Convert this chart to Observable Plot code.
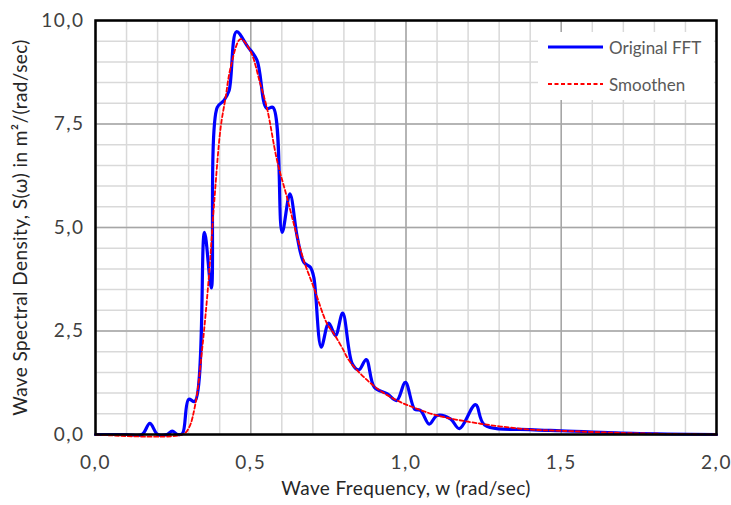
<!DOCTYPE html>
<html>
<head>
<meta charset="utf-8">
<script src="https://cdn.jsdelivr.net/npm/d3@7"></script>
<script src="https://cdn.jsdelivr.net/npm/@observablehq/plot@0.6"></script>
<style>
  html, body { margin: 0; padding: 0; background: #fff; }
  #wrap { position: relative; width: 731px; height: 505px; font-family: Lato, "Open Sans", sans-serif; }
  #legend { position: absolute; left: 538px; top: 32px; width: 176px; height: 68px; background: #fff; }
  .li { position: absolute; left: 10px; height: 20px; display: flex; align-items: center; }
  .li span { font-size: 17px; color: #595959; margin-left: 6px; font-family: Lato, sans-serif; }
  .tk text { letter-spacing: 1.5px; }
  .lab text { letter-spacing: 0.4px; }
</style>
</head>
<body>
<div id="wrap"></div>
<script>
// Original FFT spectrum
const fftW = [0, 0.10, 0.15, 0.175, 0.20, 0.23, 0.247, 0.265, 0.28, 0.30, 0.32, 0.351, 0.373, 0.392, 0.413, 0.43, 0.454, 0.489, 0.52, 0.551, 0.572, 0.601, 0.626, 0.65, 0.671, 0.692, 0.703, 0.727, 0.751, 0.773, 0.796, 0.827, 0.848, 0.872, 0.898, 0.94, 0.97, 0.998, 1.028, 1.047, 1.075, 1.10, 1.143, 1.172, 1.224, 1.253, 1.40, 1.50, 1.73, 2.0];
const fftS = [0, 0, 0, 0.27, 0, 0, 0.08, 0, 0.02, 0.85, 0.80, 4.88, 3.54, 7.9, 8.06, 8.3, 9.73, 9.38, 9.04, 7.88, 7.9, 4.88, 5.81, 4.76, 4.16, 4.04, 3.8, 2.11, 2.69, 2.39, 2.93, 1.71, 1.56, 1.81, 1.14, 0.98, 0.82, 1.26, 0.61, 0.58, 0.25, 0.46, 0.38, 0.14, 0.72, 0.23, 0.12, 0.09, 0.03, 0.0];
// Smoothed spectrum
const smW = [0, 0.28, 0.30, 0.322, 0.344, 0.365, 0.381, 0.403, 0.419, 0.435, 0.467, 0.499, 0.531, 0.553, 0.585, 0.617, 0.65, 0.671, 0.703, 0.746, 0.768, 0.794, 0.821, 0.902, 0.972, 1.036, 1.10, 1.24, 1.40, 1.50, 1.73, 2.0];
const smS = [0, 0, 0.15, 0.75, 2.1, 3.8, 5.48, 7.41, 8.14, 8.86, 9.55, 9.26, 8.46, 7.86, 6.61, 5.72, 4.76, 4.2, 3.55, 2.67, 2.43, 2.1, 1.74, 1.14, 0.82, 0.62, 0.46, 0.26, 0.12, 0.09, 0.03, 0.0];
const xTicks = [0, 0.5, 1.0, 1.5, 2.0];
const yTicks = [0, 2.5, 5.0, 7.5, 10.0];
const xMinor = d3.range(0, 21).map(i => i / 10);
const yMinor = d3.range(0, 21).map(i => i / 2);

const fft = fftW.map((w, i) => ({w, s: fftS[i]}));
const sm = smW.map((w, i) => ({w, s: smS[i]}));
const fmt = d => d.toFixed(1).replace(".", ",");

const chart = Plot.plot({
  width: 731, height: 505,
  marginLeft: 95, marginRight: 15, marginTop: 20, marginBottom: 71,
  x: {domain: [0, 2], label: null},
  y: {domain: [0, 10], label: null},
  style: {fontFamily: "Lato, sans-serif", background: "#fff"},
  marks: [
    Plot.ruleX(xMinor, {stroke: "#d9d9d9", strokeWidth: 1.5}),
    Plot.ruleY(yMinor, {stroke: "#d9d9d9", strokeWidth: 1.5}),
    Plot.ruleX(xTicks, {stroke: "#a6a6a6", strokeWidth: 1.5}),
    Plot.ruleY(yTicks, {stroke: "#a6a6a6", strokeWidth: 1.5}),
    Plot.line(fft, {x: "w", y: "s", stroke: "#0000ff", strokeWidth: 3.2, curve: "catmull-rom"}),
    Plot.line(sm, {x: "w", y: "s", stroke: "#ff0000", strokeWidth: 1.8, strokeDasharray: "4,2.5", curve: "catmull-rom"}),
    Plot.frame({stroke: "#000", strokeWidth: 2.5}),
    Plot.axisX({ticks: xTicks, tickSize: 0, tickPadding: 21, tickFormat: fmt, fontSize: 19, fill: "#404040", label: null, className: "tk"}),
    Plot.axisY({ticks: yTicks, tickSize: 0, tickPadding: 11, tickFormat: fmt, fontSize: 19, fill: "#404040", label: null, className: "tk"}),
    Plot.text(["Wave Frequency, w (rad/sec)"], {frameAnchor: "bottom", dy: 60, fontSize: 19, fill: "#262626", className: "lab"}),
    Plot.text(["Wave Spectral Density, S(\u03c9) in m\u00b2/(rad/sec)"], {frameAnchor: "left", textAnchor: "middle", dx: -75, rotate: -90, fontSize: 19, fill: "#262626", className: "lab"})
  ]
});

const wrap = document.getElementById("wrap");
wrap.appendChild(chart);
const legend = document.createElement("div");
legend.id = "legend";
legend.innerHTML = `
  <div class="li" style="top:5px"><svg width="55" height="6"><line x1="0" y1="3" x2="55" y2="3" stroke="#0000ff" stroke-width="3"/></svg><span>Original FFT</span></div>
  <div class="li" style="top:42px"><svg width="55" height="6"><line x1="0" y1="3" x2="55" y2="3" stroke="#ff0000" stroke-width="1.8" stroke-dasharray="4,2.5"/></svg><span>Smoothen</span></div>`;
wrap.appendChild(legend);
</script>
</body>
</html>
